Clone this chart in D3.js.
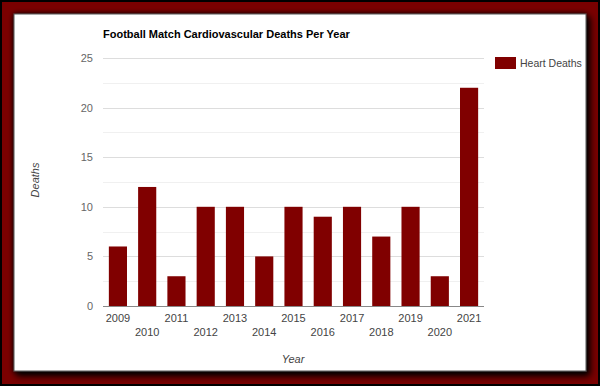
<!DOCTYPE html>
<html>
<head>
<meta charset="utf-8">
<script src="https://cdn.jsdelivr.net/npm/d3@7"></script>
<style>
  html, body { margin: 0; padding: 0; }
  body { width: 600px; height: 386px; overflow: hidden; }
  text { font-family: "Liberation Sans", Arial, sans-serif; }
</style>
</head>
<body>
<div id="chart"></div>
<script>
// Chart data
const years = ["2009", "2010", "2011", "2012", "2013", "2014", "2015", "2016", "2017", "2018", "2019", "2020", "2021"];
const heartDeaths = [6, 12, 3, 10, 10, 5, 10, 9, 10, 7, 10, 3, 22];
const yTicks = [0, 5, 10, 15, 20, 25];
const yMinorTicks = [2.5, 7.5, 12.5, 17.5, 22.5];

const width = 600, height = 386;
const barColor = "#800000";

const svg = d3.select("#chart")
    .append("svg")
    .attr("width", width)
    .attr("height", height);

// Shadow for the white panel
const defs = svg.append("defs");
const shadow = defs.append("filter")
    .attr("id", "shadow")
    .attr("x", "-10%").attr("y", "-10%")
    .attr("width", "120%").attr("height", "130%");
shadow.append("feDropShadow")
    .attr("dx", 0).attr("dy", 0)
    .attr("stdDeviation", 2.5)
    .attr("flood-color", "#000")
    .attr("flood-opacity", 0.9);
shadow.append("feDropShadow")
    .attr("dx", 3).attr("dy", 4)
    .attr("stdDeviation", 3)
    .attr("flood-color", "#000")
    .attr("flood-opacity", 1);

// Dark red frame
svg.append("rect")
    .attr("width", width).attr("height", height)
    .attr("fill", "#000");
svg.append("rect")
    .attr("x", 2).attr("y", 2)
    .attr("width", width - 4).attr("height", height - 4)
    .attr("fill", "#7a0000");

// White panel
svg.append("rect")
    .attr("x", 14).attr("y", 14)
    .attr("width", 572).attr("height", 357)
    .attr("fill", "#fff")
    .attr("stroke", "#555")
    .attr("stroke-width", 1)
    .attr("filter", "url(#shadow)");

// Scales
const x = d3.scaleBand()
    .domain(years)
    .range([103, 484])
    .paddingInner(0.38)
    .paddingOuter(0.2);

const y = d3.scaleLinear()
    .domain([0, 25])
    .range([306, 58]);

// Gridlines
const grid = svg.append("g");
grid.selectAll("line.minor")
    .data(yMinorTicks)
    .enter().append("line")
    .attr("class", "minor")
    .attr("x1", 103).attr("x2", 484)
    .attr("y1", d => Math.round(y(d)) + 0.5)
    .attr("y2", d => Math.round(y(d)) + 0.5)
    .attr("stroke", "#f0f0f0");
grid.selectAll("line.major")
    .data(yTicks.filter(d => d > 0))
    .enter().append("line")
    .attr("class", "major")
    .attr("x1", 103).attr("x2", 484)
    .attr("y1", d => Math.round(y(d)) + 0.5)
    .attr("y2", d => Math.round(y(d)) + 0.5)
    .attr("stroke", "#ddd");

// Y axis labels
const yAxis = svg.append("g")
    .attr("transform", "translate(93,0)")
    .call(d3.axisLeft(y).tickValues(yTicks).tickSize(0).tickPadding(0));
yAxis.select(".domain").remove();
yAxis.selectAll("text")
    .attr("fill", "#666")
    .style("font-size", "11px")
    .style("font-family", "'Liberation Sans', Arial, sans-serif");

// Bars
svg.append("g")
    .selectAll("rect")
    .data(years)
    .enter().append("rect")
    .attr("x", d => x(d))
    .attr("width", x.bandwidth())
    .attr("y", (d, i) => y(heartDeaths[i]))
    .attr("height", (d, i) => y(0) - y(heartDeaths[i]))
    .attr("fill", barColor);

// Baseline
svg.append("line")
    .attr("x1", 103).attr("x2", 484)
    .attr("y1", Math.round(y(0)) + 0.5)
    .attr("y2", Math.round(y(0)) + 0.5)
    .attr("stroke", "#888");

// X axis labels, staggered over two rows
svg.append("g")
    .selectAll("text")
    .data(years)
    .enter().append("text")
    .attr("x", d => x(d) + x.bandwidth() / 2)
    .attr("y", (d, i) => i % 2 === 0 ? 322 : 336)
    .attr("text-anchor", "middle")
    .attr("fill", "#444")
    .style("font-size", "11px")
    .text(d => d);

// Title
svg.append("text")
    .attr("x", 103).attr("y", 38)
    .attr("fill", "#000")
    .style("font-size", "11px")
    .style("font-weight", "bold")
    .text("Football Match Cardiovascular Deaths Per Year");

// Axis titles
svg.append("text")
    .attr("x", 293).attr("y", 363)
    .attr("text-anchor", "middle")
    .attr("fill", "#444")
    .style("font-size", "11px")
    .style("font-style", "italic")
    .text("Year");

svg.append("text")
    .attr("transform", "translate(39,180) rotate(-90)")
    .attr("text-anchor", "middle")
    .attr("fill", "#444")
    .style("font-size", "11px")
    .style("font-style", "italic")
    .text("Deaths");

// Legend
const legend = svg.append("g").attr("transform", "translate(495,57)");
legend.append("rect")
    .attr("width", 21).attr("height", 12)
    .attr("fill", barColor);
legend.append("text")
    .attr("x", 25).attr("y", 10)
    .attr("fill", "#444")
    .style("font-size", "10.5px")
    .text("Heart Deaths");
</script>
</body>
</html>
